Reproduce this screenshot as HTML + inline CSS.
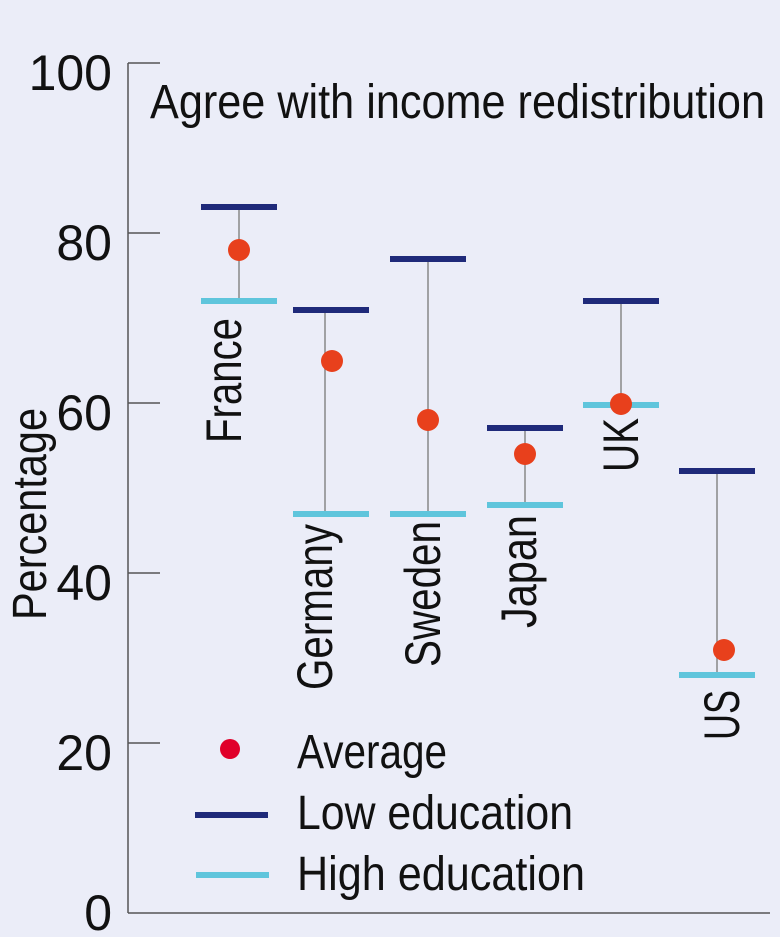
<!DOCTYPE html>
<html><head><meta charset="utf-8"><style>
html,body{margin:0;padding:0;background:#ebedf8;}
svg{display:block}
text{font-family:"Liberation Sans Narrow","Liberation Sans",sans-serif;fill:#111}
</style></head><body>
<svg width="780" height="937" viewBox="0 0 780 937" xmlns="http://www.w3.org/2000/svg">
<rect width="780" height="937" fill="#ebedf8"/>
<g stroke="#555" stroke-width="1.5" fill="none">
<line x1="128" y1="63" x2="128" y2="913"/>
<line x1="128" y1="913" x2="770" y2="913"/>
<line x1="128" y1="63" x2="160" y2="63"/>
<line x1="128" y1="233" x2="160" y2="233"/>
<line x1="128" y1="403" x2="160" y2="403"/>
<line x1="128" y1="573" x2="160" y2="573"/>
<line x1="128" y1="743" x2="160" y2="743"/>
</g>
<g font-size="50" text-anchor="end">
<text x="112" y="90">100</text>
<text x="112" y="260">80</text>
<text x="112" y="430">60</text>
<text x="112" y="600">40</text>
<text x="112" y="770">20</text>
<text x="112" y="930">0</text>
</g>
<text font-size="48" transform="translate(46,620) rotate(-90)" textLength="212" lengthAdjust="spacingAndGlyphs">Percentage</text>
<text x="150" y="118" font-size="48" textLength="615" lengthAdjust="spacingAndGlyphs">Agree with income redistribution</text>
<g stroke="#888" stroke-width="1.5">
<line x1="239" y1="207" x2="239" y2="301"/>
<line x1="325" y1="310" x2="325" y2="514"/>
<line x1="428" y1="259" x2="428" y2="514"/>
<line x1="525" y1="428" x2="525" y2="505"/>
<line x1="621" y1="301" x2="621" y2="404"/>
<line x1="717" y1="471" x2="717" y2="675"/>
</g>
<g fill="#1f2a7a">
<rect x="201" y="204" width="76" height="6"/>
<rect x="293" y="307" width="76" height="6"/>
<rect x="390" y="256" width="76" height="6"/>
<rect x="487" y="425" width="76" height="6"/>
<rect x="583" y="298" width="76" height="6"/>
<rect x="679" y="468" width="76" height="6"/>
</g>
<g fill="#5fc5dc">
<rect x="201" y="298" width="76" height="6"/>
<rect x="293" y="511" width="76" height="6"/>
<rect x="390" y="511" width="76" height="6"/>
<rect x="487" y="502" width="76" height="6"/>
<rect x="583" y="402" width="76" height="6"/>
<rect x="679" y="672" width="76" height="6"/>
</g>
<g fill="#e8401c">
<circle cx="239" cy="250" r="11"/>
<circle cx="332" cy="361" r="11"/>
<circle cx="428" cy="420" r="11"/>
<circle cx="525" cy="454" r="11"/>
<circle cx="621" cy="404" r="11"/>
<circle cx="724" cy="650" r="11"/>
</g>
<g font-size="50">
<text transform="translate(241,443) rotate(-90)" textLength="125" lengthAdjust="spacingAndGlyphs">France</text>
<text transform="translate(332,690) rotate(-90)" textLength="166" lengthAdjust="spacingAndGlyphs">Germany</text>
<text transform="translate(440,667) rotate(-90)" textLength="146" lengthAdjust="spacingAndGlyphs">Sweden</text>
<text transform="translate(536,628) rotate(-90)" textLength="113" lengthAdjust="spacingAndGlyphs">Japan</text>
<text transform="translate(638,472) rotate(-90)" textLength="54" lengthAdjust="spacingAndGlyphs">UK</text>
<text transform="translate(739,740) rotate(-90)" textLength="50" lengthAdjust="spacingAndGlyphs">US</text>
</g>
<circle cx="230" cy="749" r="10" fill="#e0002a"/>
<rect x="195" y="812" width="73" height="6" fill="#1f2a7a"/>
<rect x="196" y="872" width="73" height="6" fill="#5fc5dc"/>
<g font-size="48">
<text x="297" y="768" textLength="150" lengthAdjust="spacingAndGlyphs">Average</text>
<text x="297" y="829" textLength="276" lengthAdjust="spacingAndGlyphs">Low education</text>
<text x="297" y="890" textLength="288" lengthAdjust="spacingAndGlyphs">High education</text>
</g>
</svg>
</body></html>
